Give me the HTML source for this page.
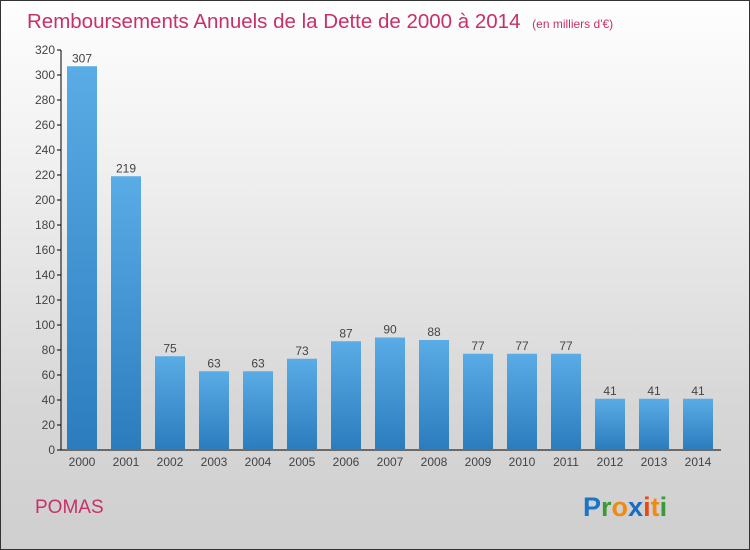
<!DOCTYPE html>
<html><head><meta charset="utf-8"><style>
body{margin:0}
#c{position:relative;width:748px;height:548px;border:1px solid #333;background:linear-gradient(#fefefe,#f0f0f0 30%,#d6d6d6 75%,#cfcfcf);font-family:"Liberation Sans",sans-serif;overflow:hidden}
</style></head><body>
<div id="c">
<svg width="748" height="548" id="s">
<defs><linearGradient id="g" x1="0" y1="0" x2="0" y2="1"><stop offset="0" stop-color="#5aace6"/><stop offset="1" stop-color="#2b7cbd"/></linearGradient></defs>
<text x="26" y="27" font-size="20.5" fill="#c8306a">Remboursements Annuels de la Dette de 2000 à 2014 <tspan font-size="12" dx="6">(en milliers d'€)</tspan></text>
<text x="34" y="512" font-size="19" fill="#c8306a">POMAS</text>
<text x="582" y="515" font-size="27" font-weight="bold"><tspan fill="#1a74c8">P</tspan><tspan fill="#3a9a3a">r</tspan><tspan fill="#f08a10">o</tspan><tspan fill="#1a6cc0">x</tspan><tspan fill="#e84a10">i</tspan><tspan fill="#f08a10">t</tspan><tspan fill="#3a9a3a">i</tspan></text>
<g id="plot"></g>
</svg>
</div>
<script>
const categories=["2000","2001","2002","2003","2004","2005","2006","2007","2008","2009","2010","2011","2012","2013","2014"];
const values=[307,219,75,63,63,73,87,90,88,77,77,77,41,41,41];
const yTicks=[0,20,40,60,80,100,120,140,160,180,200,220,240,260,280,300,320];
const NS="http://www.w3.org/2000/svg";
const g=document.getElementById("plot");
const y=v=>449-v*400/320;
const x=i=>81+i*44;
function mk(t,a){const e=document.createElementNS(NS,t);for(const k in a)e.setAttribute(k,a[k]);g.appendChild(e);return e;}
let ax=mk("line",{x1:60,y1:49,x2:60,y2:449,stroke:"#000"});


let bx=mk("line",{x1:60,y1:449,x2:720,y2:449,stroke:"#000"});


yTicks.forEach(v=>{
 mk("line",{x1:56,y1:y(v),x2:60,y2:y(v),stroke:"#000"});
 let t=mk("text",{x:54,y:y(v)+4,"font-size":12,fill:"#444","text-anchor":"end"});t.textContent=v;
 
 
});
categories.forEach((c,i)=>{
 let r=mk("rect",{x:x(i)-15,y:y(values[i]),width:30,height:449-y(values[i]),fill:"url(#g)"});
 
 
 let l=mk("text",{x:x(i),y:y(values[i])-4,"font-size":12,fill:"#444","text-anchor":"middle"});l.textContent=values[i];
 
 
 let t=mk("text",{x:x(i),y:465,"font-size":12,fill:"#444","text-anchor":"middle"});t.textContent=c;
 
 
});
</script>
</body></html>
